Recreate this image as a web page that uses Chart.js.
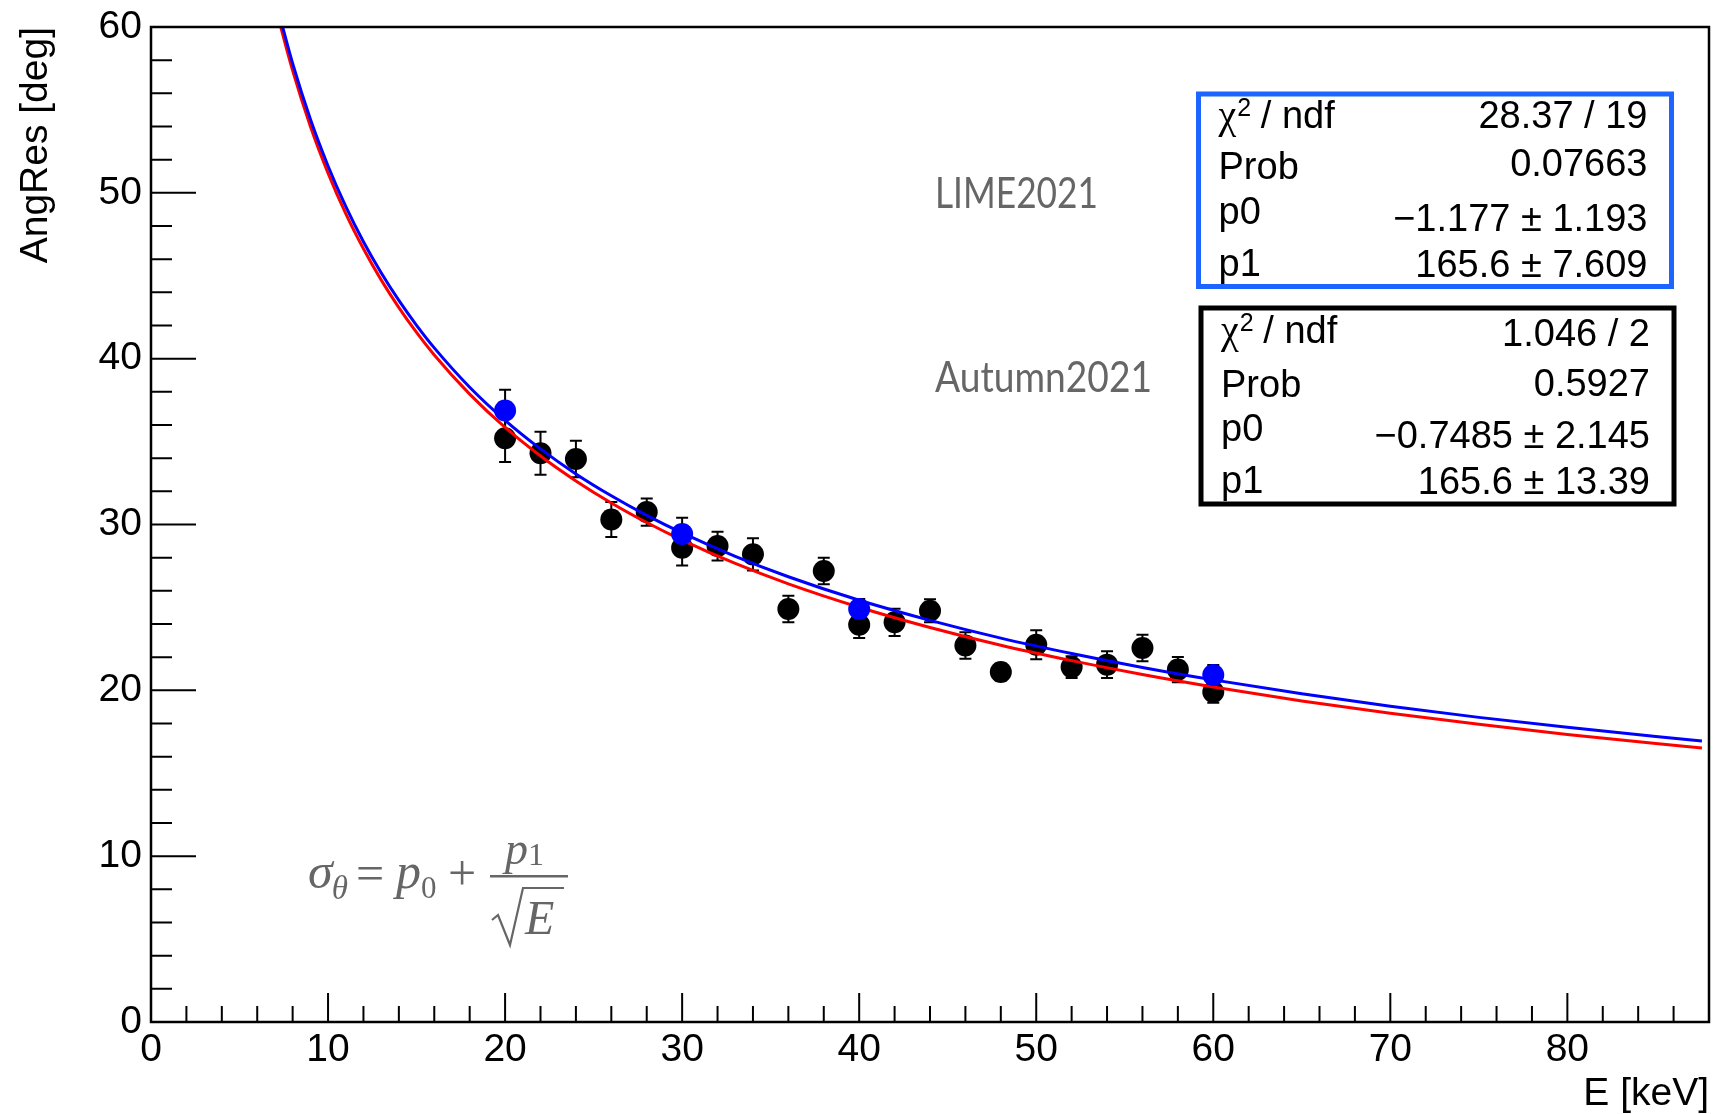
<!DOCTYPE html>
<html>
<head>
<meta charset="utf-8">
<script src="https://cdn.jsdelivr.net/npm/chart.js"></script>
<style>
  body { margin: 0; background: #fff; }
  canvas { display: block; }
</style>
</head>
<body>
<canvas id="myChart" width="1714" height="1114"></canvas>
<script>
// LIME2021 points (black)
const limeE = [20, 22, 24, 26, 28, 30, 32, 34, 36, 38, 40, 42, 44, 46, 48, 50, 52, 54, 56, 58, 60];
const limeRes = [35.2, 34.3, 33.95, 30.3, 30.75, 28.6, 28.7, 28.2, 24.9, 27.2, 23.95, 24.1, 24.8, 22.7, 21.1, 22.75, 21.4, 21.55, 22.55, 21.25, 19.9];
const limeErr = [1.43, 1.3, 1.1, 1.05, 0.82, 1.07, 0.87, 0.97, 0.8, 0.8, 0.8, 0.82, 0.7, 0.8, 0.5, 0.88, 0.65, 0.8, 0.8, 0.76, 0.65];

// Autumn2021 points (blue)
const autE = [20, 30, 40, 60];
const autRes = [36.87, 29.43, 24.91, 20.93];
const autErr = [1.25, 0.98, 0.6, 0.6];

// fit curves
const fitE = [7.3, 8, 9, 10, 11, 12, 13, 14, 15, 16, 18, 20, 22, 24, 26, 28, 30, 33, 36, 40, 44, 48, 52, 56, 60, 65, 70, 75, 80, 85, 87.6];
const fitBlue = [60.54, 57.8, 54.45, 51.62, 49.18, 47.05, 45.18, 43.51, 42.01, 40.65, 38.28, 36.28, 34.56, 33.05, 31.73, 30.55, 29.49, 28.08, 26.85, 25.43, 24.22, 23.15, 22.22, 21.38, 20.63, 19.79, 19.04, 18.37, 17.77, 17.21, 16.94];
const fitRed = [60.11, 57.37, 54.02, 51.19, 48.75, 46.63, 44.75, 43.08, 41.58, 40.22, 37.86, 35.85, 34.13, 32.63, 31.3, 30.12, 29.06, 27.65, 26.42, 25.01, 23.79, 22.72, 21.79, 20.95, 20.2, 19.36, 18.62, 17.95, 17.34, 16.79, 16.52];

// axis ticks
const xMajor = [0, 10, 20, 30, 40, 50, 60, 70, 80];
const yMajor = [0, 10, 20, 30, 40, 50, 60];

// stat boxes
const statNames = ["χ", "Prob", "p0", "p1"];
const limeStats = ["28.37 / 19", "0.07663", "−1.177 ± 1.193", "165.6 ± 7.609"];
const autStats = ["1.046 / 2", "0.5927", "−0.7485 ± 2.145", "165.6 ± 13.39"];

const sans = "'Liberation Sans', Arial, sans-serif";
const serif = "'Liberation Serif', 'Times New Roman', serif";

const toPoints = (xs, ys) => xs.map((x, i) => ({ x: x, y: ys[i] }));

const drawStatBox = (ctx, box, color, names, values) => {
  ctx.save();
  ctx.strokeStyle = color;
  ctx.lineWidth = 5;
  ctx.strokeRect(box.x, box.y, box.w, box.h);
  ctx.fillStyle = "#000";
  ctx.textBaseline = "alphabetic";
  const lx = box.x + 20;
  const rx = box.x + box.w - 24;
  names.forEach((name, i) => {
    const ly = box.rows[i][0];
    const vy = box.rows[i][1];
    ctx.textAlign = "left";
    if (i === 0) {
      ctx.font = "40px " + serif;
      ctx.fillText(name, lx, ly);
      const w = ctx.measureText(name).width;
      ctx.font = "25px " + sans;
      ctx.fillText("2", lx + w + 1, ly - 12);
      ctx.font = "38px " + sans;
      ctx.fillText(" / ndf", lx + w + 14, ly);
    } else {
      ctx.font = "38px " + sans;
      ctx.fillText(name, lx, ly);
    }
    ctx.font = "38px " + sans;
    ctx.textAlign = "right";
    ctx.fillText(values[i], rx, vy);
  });
  ctx.restore();
};

const rootStyle = {
  id: "rootStyle",
  beforeDatasetsDraw(chart) {
    const ctx = chart.ctx;
    const xs = chart.scales.x;
    const ys = chart.scales.y;
    ctx.save();
    ctx.strokeStyle = "#000";
    ctx.lineWidth = 2;
    const bars = (es, vs, errs) => {
      es.forEach((e, i) => {
        const px = xs.getPixelForValue(e);
        const top = ys.getPixelForValue(vs[i] + errs[i]);
        const bot = ys.getPixelForValue(vs[i] - errs[i]);
        ctx.beginPath();
        ctx.moveTo(px, top);
        ctx.lineTo(px, bot);
        ctx.moveTo(px - 6, top);
        ctx.lineTo(px + 6, top);
        ctx.moveTo(px - 6, bot);
        ctx.lineTo(px + 6, bot);
        ctx.stroke();
      });
    };
    bars(limeE, limeRes, limeErr);
    bars(autE, autRes, autErr);
    ctx.restore();
  },
  afterDraw(chart) {
    const ctx = chart.ctx;
    const a = chart.chartArea;
    const xs = chart.scales.x;
    const ys = chart.scales.y;
    ctx.save();

    // inward ticks
    ctx.strokeStyle = "#000";
    ctx.lineWidth = 2;
    ctx.beginPath();
    for (let v = 0; v < 88; v += 2) {
      const px = xs.getPixelForValue(v);
      const len = v % 10 === 0 ? 29 : 16;
      ctx.moveTo(px, a.bottom);
      ctx.lineTo(px, a.bottom - len);
    }
    for (let v = 0; v <= 60; v += 2) {
      const py = ys.getPixelForValue(v);
      const len = v % 10 === 0 ? 45 : 21;
      ctx.moveTo(a.left, py);
      ctx.lineTo(a.left + len, py);
    }
    ctx.stroke();

    // frame
    ctx.lineWidth = 2.5;
    ctx.strokeRect(a.left, a.top, a.right - a.left, a.bottom - a.top);

    // stat boxes
    drawStatBox(ctx, { x: 1198.5, y: 94, w: 473, h: 192.5, rows: [[128, 128], [179, 176], [224, 231], [276, 277]] },
      "#1e64ff", statNames, limeStats);
    drawStatBox(ctx, { x: 1201, y: 308, w: 473, h: 196, rows: [[343, 346], [397, 396], [441, 448], [493, 494]] },
      "#000", statNames, autStats);

    // dataset labels
    ctx.fillStyle = "#666";
    ctx.textAlign = "left";
    ctx.textBaseline = "alphabetic";
    const label = (txt, x, y, width) => {
      ctx.font = "43px Lato, 'Open Sans', sans-serif";
      const w = ctx.measureText(txt).width;
      ctx.save();
      ctx.translate(x, y);
      ctx.scale(width / w, 1);
      ctx.fillText(txt, 0, 0);
      ctx.restore();
    };
    label("LIME2021", 935, 208, 163);
    label("Autumn2021", 935, 392, 217);

    // formula
    const put = (txt, font, x, y) => {
      ctx.font = font;
      ctx.fillText(txt, x, y);
      return x + ctx.measureText(txt).width;
    };
    let cx = put("σ", "italic 50px " + serif, 308, 888);
    put("θ", "italic 33px " + serif, cx - 1, 899);
    put("=", "50px " + serif, 356, 890);
    cx = put("p", "italic 50px " + serif, 396, 888);
    put("0", "31px " + serif, cx, 898);
    put("+", "50px " + serif, 448, 890);
    ctx.fillRect(490, 875, 78, 2.5);
    cx = put("p", "italic 46px " + serif, 505, 864);
    put("1", "32px " + serif, cx, 865);
    put("E", "italic 48px " + serif, 525, 934);
    ctx.strokeStyle = "#666";
    ctx.lineWidth = 2.2;
    ctx.beginPath();
    ctx.moveTo(492, 920);
    ctx.lineTo(498, 915);
    ctx.lineTo(510, 945);
    ctx.lineTo(523, 888);
    ctx.lineTo(564, 888);
    ctx.stroke();

    ctx.restore();
  }
};

new Chart(document.getElementById("myChart"), {
  type: "scatter",
  data: {
    datasets: [
      {
        label: "Autumn2021 fit",
        data: toPoints(fitE, fitBlue),
        showLine: true,
        borderColor: "#0000ff",
        borderWidth: 3,
        pointRadius: 0,
        cubicInterpolationMode: "monotone",
        order: 0,
      },
      {
        label: "Autumn2021",
        data: toPoints(autE, autRes),
        backgroundColor: "#0000ff",
        borderWidth: 0,
        pointRadius: 11,
        order: 1,
      },
      {
        label: "LIME2021 fit",
        data: toPoints(fitE, fitRed),
        showLine: true,
        borderColor: "#ff0000",
        borderWidth: 3,
        pointRadius: 0,
        cubicInterpolationMode: "monotone",
        order: 2,
      },
      {
        label: "LIME2021",
        data: toPoints(limeE, limeRes),
        backgroundColor: "#000",
        borderWidth: 0,
        pointRadius: 11,
        order: 3,
      },
    ],
  },
  options: {
    responsive: false,
    animation: false,
    events: [],
    layout: { autoPadding: false, padding: { top: 27, right: 5, left: 0, bottom: 0 } },
    plugins: { legend: { display: false }, tooltip: { enabled: false } },
    scales: {
      x: {
        type: "linear",
        min: 0,
        max: 88,
        grid: { display: false },
        border: { display: false },
        afterBuildTicks: (scale) => { scale.ticks = xMajor.map((v) => ({ value: v })); },
        afterFit: (scale) => {
          scale.height = 92;
          scale.paddingLeft = 0;
          scale.paddingRight = 0;
        },
        ticks: { padding: 1, color: "#000", font: { size: 39, family: sans, lineHeight: 1 } },
        title: {
          display: true,
          text: "E [keV]",
          align: "end",
          color: "#000",
          padding: { top: 0, bottom: 0 },
          font: { size: 39, family: sans, lineHeight: 1 },
        },
      },
      y: {
        type: "linear",
        min: 0,
        max: 60,
        grid: { display: false },
        border: { display: false },
        afterBuildTicks: (scale) => { scale.ticks = yMajor.map((v) => ({ value: v })); },
        afterFit: (scale) => {
          scale.width = 151;
          scale.paddingTop = 0;
          scale.paddingBottom = 0;
        },
        ticks: { padding: 1, color: "#000", font: { size: 39, family: sans } },
        title: {
          display: true,
          text: "AngRes [deg]",
          align: "end",
          color: "#000",
          padding: { top: 13, bottom: 0 },
          font: { size: 39, family: sans },
        },
      },
    },
  },
  plugins: [rootStyle],
});
</script>
</body>
</html>
